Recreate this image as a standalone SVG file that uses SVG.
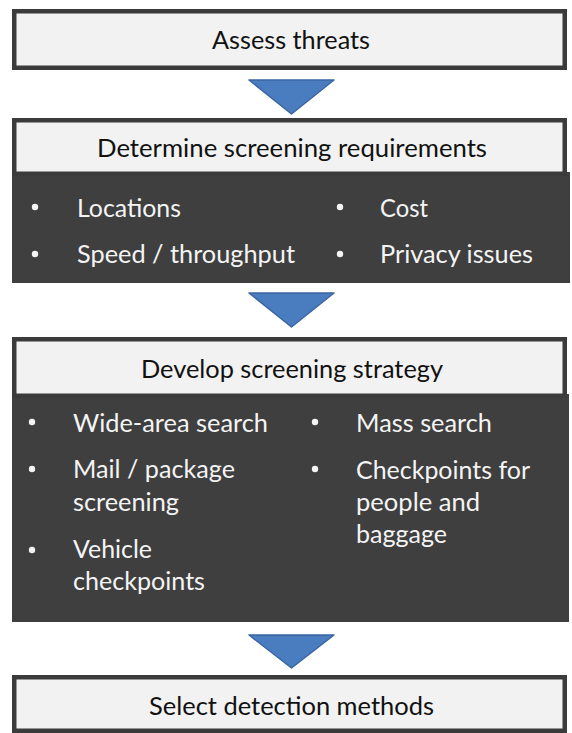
<svg xmlns="http://www.w3.org/2000/svg" width="572" height="733" viewBox="0 0 572 733">
<style>
.hdr{fill:#f2f2f2;stroke:#3b3b3b;stroke-width:4.5}
.body{fill:#3f3f3f}
.ht{font-family:Lato,"Open Sans","Liberation Sans",sans-serif;font-size:25px;fill:#111111}
.bt{font-family:Lato,"Open Sans","Liberation Sans",sans-serif;font-size:25px;fill:#f4f4f4}
.dot{fill:#f4f4f4}
.arrow{fill:#4a7dbf;stroke:#3a66a3;stroke-width:1.5;stroke-linejoin:round}
</style>
<rect width="572" height="733" fill="#ffffff"/>
<g id="connectors">
  <polygon class="arrow" points="249,80 334,80 291.5,114"/>
  <polygon class="arrow" points="249,293 334,293 291.5,327"/>
  <polygon class="arrow" points="249,635 334,635 291.5,668"/>
</g>
<g id="assess">
  <rect class="hdr" x="14.25" y="11.25" width="550.5" height="56.5"/>
  <text class="ht" x="212" y="49" textLength="158" lengthAdjust="spacingAndGlyphs">Assess threats</text>
</g>
<g id="requirements">
  <rect class="body" x="12" y="172" width="558" height="111"/>
  <rect class="hdr" x="14.25" y="120.25" width="550.5" height="53.5"/>
  <text class="ht" x="97" y="157" textLength="390" lengthAdjust="spacingAndGlyphs">Determine screening requirements</text>
  <circle class="dot" cx="35" cy="207" r="3.2"/>
  <text class="bt" x="77" y="217" textLength="104" lengthAdjust="spacingAndGlyphs">Locations</text>
  <circle class="dot" cx="35" cy="254" r="3.2"/>
  <text class="bt" x="77" y="263" textLength="218" lengthAdjust="spacingAndGlyphs">Speed / throughput</text>
  <circle class="dot" cx="340" cy="207" r="3.2"/>
  <text class="bt" x="380" y="217" textLength="48" lengthAdjust="spacingAndGlyphs">Cost</text>
  <circle class="dot" cx="340" cy="254" r="3.2"/>
  <text class="bt" x="380" y="263" textLength="153" lengthAdjust="spacingAndGlyphs">Privacy issues</text>
</g>
<g id="strategy">
  <rect class="body" x="12" y="394" width="557" height="228"/>
  <rect class="hdr" x="14.25" y="339.25" width="550.5" height="56.5"/>
  <text class="ht" x="141" y="378" textLength="302" lengthAdjust="spacingAndGlyphs">Develop screening strategy</text>
  <circle class="dot" cx="32" cy="422" r="3.2"/>
  <text class="bt" x="73" y="432" textLength="195" lengthAdjust="spacingAndGlyphs">Wide-area search</text>
  <circle class="dot" cx="32" cy="469" r="3.2"/>
  <text class="bt" x="73" y="478" textLength="162" lengthAdjust="spacingAndGlyphs">Mail / package</text>
  <text class="bt" x="73" y="511" textLength="106" lengthAdjust="spacingAndGlyphs">screening</text>
  <circle class="dot" cx="32" cy="550" r="3.2"/>
  <text class="bt" x="73" y="558" textLength="79" lengthAdjust="spacingAndGlyphs">Vehicle</text>
  <text class="bt" x="73" y="590" textLength="132" lengthAdjust="spacingAndGlyphs">checkpoints</text>
  <circle class="dot" cx="315" cy="422" r="3.2"/>
  <text class="bt" x="356" y="432" textLength="136" lengthAdjust="spacingAndGlyphs">Mass search</text>
  <circle class="dot" cx="315" cy="469" r="3.2"/>
  <text class="bt" x="356" y="479" textLength="174" lengthAdjust="spacingAndGlyphs">Checkpoints for</text>
  <text class="bt" x="356" y="511" textLength="124" lengthAdjust="spacingAndGlyphs">people and</text>
  <text class="bt" x="356" y="543" textLength="91" lengthAdjust="spacingAndGlyphs">baggage</text>
</g>
<g id="select">
  <rect class="hdr" x="14.25" y="677.25" width="550.5" height="53.5"/>
  <text class="ht" x="149" y="715" textLength="285" lengthAdjust="spacingAndGlyphs">Select detection methods</text>
</g>
</svg>
